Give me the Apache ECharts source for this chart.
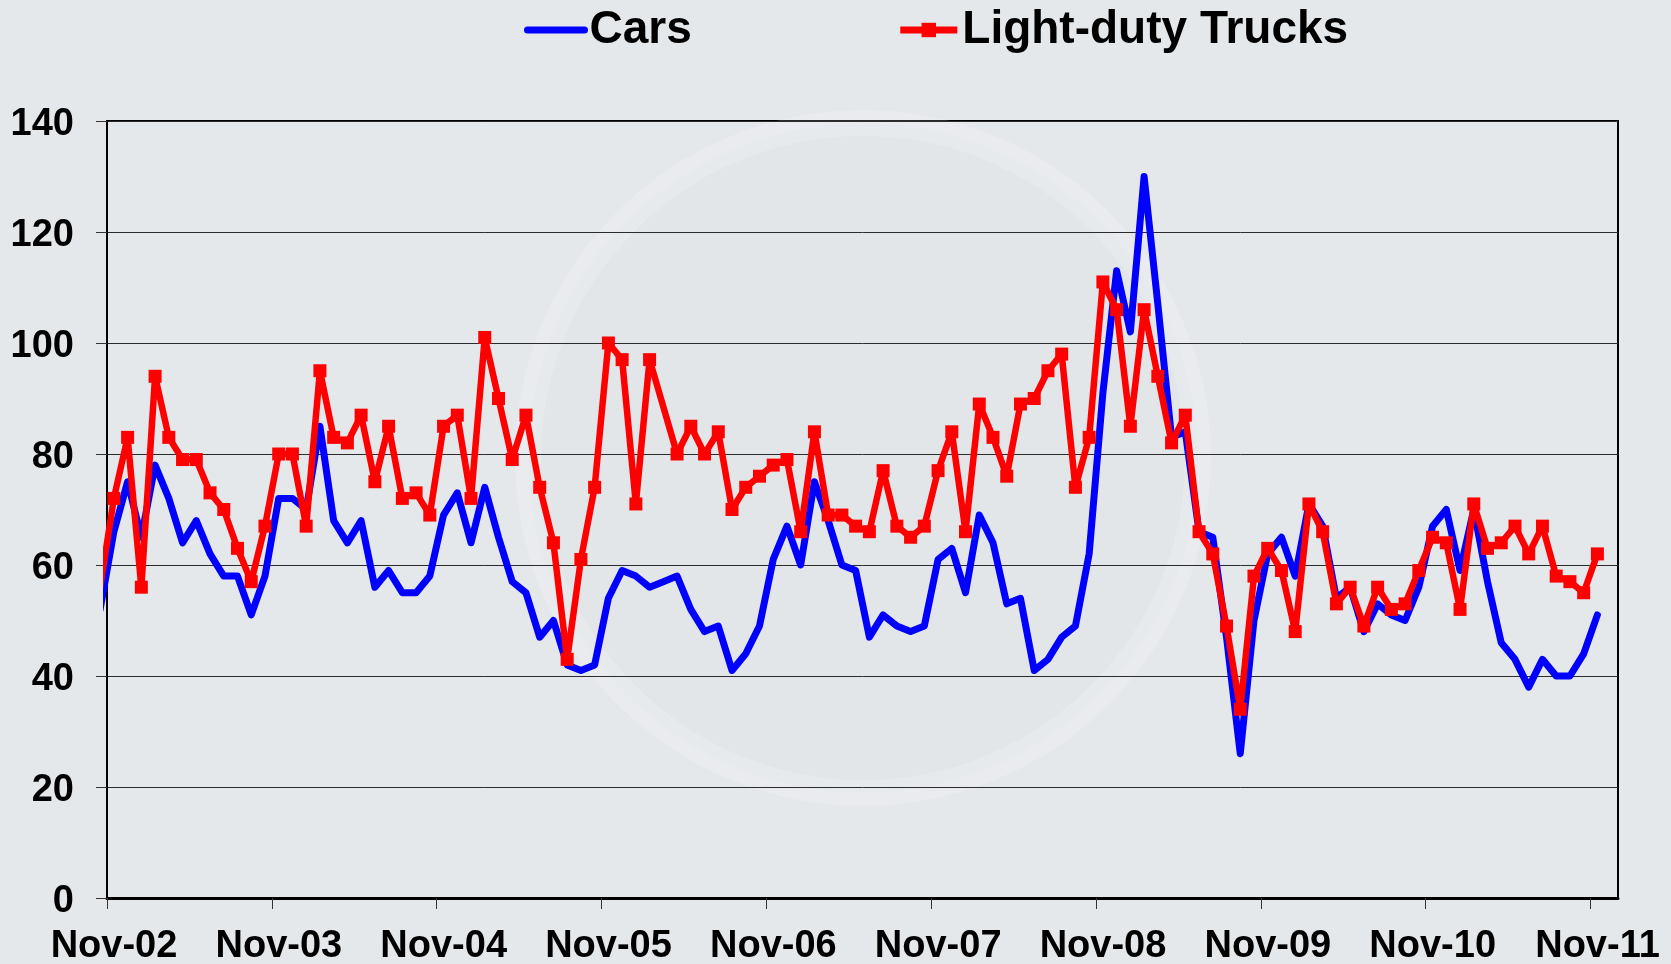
<!DOCTYPE html>
<html>
<head>
<meta charset="utf-8">
<title>Cars vs Light-duty Trucks</title>
<script src="https://cdn.jsdelivr.net/npm/echarts@6/dist/echarts.min.js"></script>
<style>
  html, body { margin: 0; padding: 0; background: #e5e8eb; }
  #chart { width: 1671px; height: 964px; }
</style>
</head>
<body>
<div id="chart"></div>
<script>
// monthly values, first one is Oct-02 (clipped at the left edge), last one is Nov-11
var firstMonth = -1  // months counted from Nov-02

var cars = [52,
  66, 75, 65, 78, 72, 64, 68, 62, 58, 58, 51, 58,
  72, 72, 70, 85, 68, 64, 68, 56, 59, 55, 55, 58,
  69, 73, 64, 74, 65, 57, 55, 47, 50, 42, 41, 42,
  54, 59, 58, 56, 57, 58, 52, 48, 49, 41, 44, 49,
  61, 67, 60, 75, 68, 60, 59, 47, 51, 49, 48, 49,
  61, 63, 55, 69, 64, 53, 54, 41, 43, 47, 49, 62,
  91, 113, 102, 130, 107, 83, 84, 66, 65, 47, 26, 50,
  62, 65, 58, 71, 67, 54, 56, 48, 53, 51, 50, 56,
  67, 70, 59, 70, 57, 46, 43, 38, 43, 40, 40, 44,
  51]

var trucks = [56,
  72, 83, 56, 94, 83, 79, 79, 73, 70, 63, 57, 67,
  80, 80, 67, 95, 83, 82, 87, 75, 85, 72, 73, 69,
  85, 87, 72, 101, 90, 79, 87, 74, 64, 43, 61, 74,
  100, 97, 71, 97, null, 80, 85, 80, 84, 70, 74, 76,
  78, 79, 66, 84, 69, 69, 67, 66, 77, 67, 65, 67,
  77, 84, 66, 89, 83, 76, 89, 90, 95, 98, 74, 83,
  111, 106, 85, 106, 94, 82, 87, 66, 62, 49, 34, 58,
  63, 59, 48, 71, 66, 53, 56, 49, 56, 52, 53, 59,
  65, 64, 52, 71, 63, 64, 67, 62, 67, 58, 57, 55,
  62]

var tickLabels = ['Nov-02', 'Nov-03', 'Nov-04', 'Nov-05', 'Nov-06',
                  'Nov-07', 'Nov-08', 'Nov-09', 'Nov-10', 'Nov-11']

var yTicks = [0, 20, 40, 60, 80, 100, 120, 140]

var fontFamily = '"Liberation Sans", Arial, sans-serif'

// one tick each November
var tickMonths = tickLabels.map(function (t, i) { return i * 12 })

// each value sits in the middle of its month
function toPoints(values) {
  return values.map(function (v, i) {
    return [firstMonth + i + 0.5, v === null ? '-' : v]
  })
}

var myChart = echarts.init(document.getElementById('chart'), null, { renderer: 'canvas' })

var option = {
  backgroundColor: '#e5e8eb',
  animation: false,
  graphic: [
    {
      // faint watermark ring behind the plot
      type: 'circle',
      silent: true,
      z: 0,
      shape: { cx: 863, cy: 458, r: 335 },
      style: { fill: 'rgba(0,0,0,0.006)', stroke: 'rgba(255,255,255,0.16)', lineWidth: 26 }
    }
  ],
  legend: {
    left: 519,
    top: 2,
    itemWidth: 57,
    itemHeight: 18,
    itemGap: 205,
    lineStyle: { width: 7 },
    textStyle: { fontSize: 46, fontWeight: 'bold', color: '#000', fontFamily: fontFamily },
    data: [
      { name: 'Cars', itemStyle: { opacity: 0 } },
      'Light-duty Trucks'
    ]
  },
  grid: {
    left: 107,
    right: 53,
    top: 121,
    bottom: 66,
    containLabel: false,
    outerBoundsMode: 'none',
    show: true,
    borderColor: '#000',
    borderWidth: 2,
    backgroundColor: 'transparent'
  },
  xAxis: {
    type: 'value',
    min: 0,
    max: 110,
    axisLine: { show: true, onZero: false, lineStyle: { color: '#000', width: 3 } },
    axisTick: { show: true, length: 11, customValues: tickMonths, lineStyle: { color: '#333', width: 1 } },
    axisLabel: {
      customValues: tickMonths,
      formatter: function (v) { return tickLabels[Math.round(v / 12)] },
      margin: 30,
      padding: [0, 0, 0, 14],
      color: '#000',
      fontSize: 38,
      fontWeight: 'bold',
      fontFamily: fontFamily
    },
    splitLine: { show: false }
  },
  yAxis: {
    type: 'value',
    min: yTicks[0],
    max: yTicks[yTicks.length - 1],
    interval: 20,
    axisLine: { show: true, lineStyle: { color: '#000', width: 2 } },
    axisTick: { show: true, length: 11, lineStyle: { color: '#333', width: 1 } },
    axisLabel: {
      margin: 33,
      verticalAlign: 'top',
      lineHeight: 8,
      color: '#000',
      fontSize: 38,
      fontWeight: 'bold',
      fontFamily: fontFamily
    },
    splitLine: { show: true, lineStyle: { color: '#2b2b2b', width: 1 } }
  },
  series: [
    {
      name: 'Cars',
      type: 'line',
      data: toPoints(cars),
      symbol: 'none',
      clip: true,
      z: 3,
      lineStyle: { color: '#0000ff', width: 7, join: 'round', cap: 'round' },
      itemStyle: { color: '#0000ff' }
    },
    {
      name: 'Light-duty Trucks',
      type: 'line',
      data: toPoints(trucks),
      symbol: 'rect',
      symbolSize: 13,
      showAllSymbol: true,
      connectNulls: true,
      clip: true,
      z: 4,
      lineStyle: { color: '#ff0000', width: 6.5, join: 'round' },
      itemStyle: { color: '#ff0000' }
    }
  ]
}

myChart.setOption(option)
</script>
</body>
</html>
